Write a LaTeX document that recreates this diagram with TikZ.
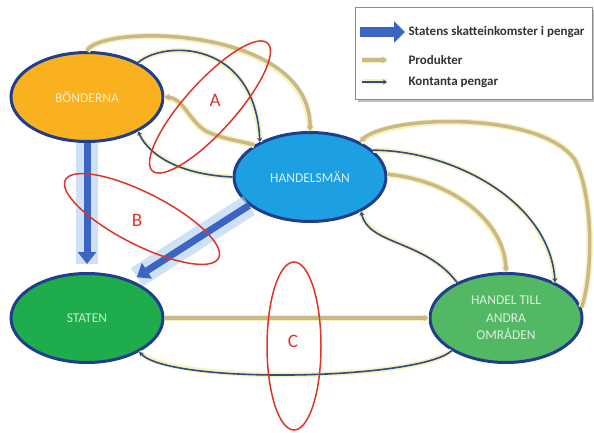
\documentclass[tikz,border=0pt]{standalone}
\usepackage{fontspec}
\setmainfont{Carlito}
\usetikzlibrary{shapes.geometric,arrows.meta,positioning}

\definecolor{rimblue}{RGB}{32,62,140}
\definecolor{farmorange}{RGB}{249,177,32}
\definecolor{tradeblue}{RGB}{28,160,225}
\definecolor{stategreen}{RGB}{30,172,76}
\definecolor{fargreen}{RGB}{82,184,100}
\definecolor{goods}{RGB}{203,184,135}
\definecolor{cash}{RGB}{45,75,135}
\definecolor{halo}{RGB}{246,242,190}
\definecolor{taxblue}{RGB}{60,100,195}
\definecolor{taxhalo}{RGB}{175,205,240}
\definecolor{ringred}{RGB}{222,52,42}

\tikzset{
  actor/.style={ellipse, draw=rimblue, line width=3pt, minimum width=152pt,
    minimum height=89pt, inner sep=0pt, align=center,
    font=\fontsize{13.5}{17.5}\selectfont},
  goodsflow/.style={draw=goods, line width=3.5pt,
    preaction={draw=halo, line width=6.5pt, -},
    -{Stealth[length=5pt,width=7pt]}},
  cashflow/.style={draw=cash, line width=1.6pt,
    preaction={draw=halo, line width=5pt, -},
    -{Stealth[length=4pt,width=5pt]}},
  taxflow/.style={draw=taxblue, line width=7pt,
    preaction={draw=taxhalo, line width=22pt, opacity=.6, -},
    -{Triangle[length=12pt,width=18pt]}},
  zone/.style={ellipse, draw=ringred, line width=1.5pt, inner sep=0pt},
  zonelabel/.style={text=ringred, font=\fontsize{19}{21}\selectfont},
  keytext/.style={anchor=west, text=black!80, font=\fontsize{13}{15}\bfseries},
}

\begin{document}
\begin{tikzpicture}[x=1pt,y=-1pt]
  \useasboundingbox (0,0) rectangle (594,433);

  % actors
  \node [actor, fill=farmorange, text=white!75!farmorange] (bonder) at (87,97) {BÖNDERNA};
  \node [actor, fill=tradeblue, text=white!85!tradeblue] (handelsman) at (310,177) {HANDELSMÄN};
  \node [actor, fill=stategreen, text=white!75!stategreen] (staten) at (87,318) {STATEN};
  \node [actor, fill=fargreen, text=white!80!fargreen] (far) at (506,318) {HANDEL TILL\\ANDRA\\OMRÅDEN};

  % goods and cash between farmers and merchants
  \draw [goodsflow] (bonder.north) .. controls (98,24) and (312,24) .. (handelsman.north);
  \draw [cashflow] (bonder.34) .. controls (165,40) and (255,40) .. (handelsman.145);
  \draw [goodsflow] (handelsman.150) .. controls (235,140) and (225,139) .. (210,133)
    .. controls (190,125) and (185,98) .. (bonder.east);
  \draw [cashflow] (handelsman.west) .. controls (185,175) and (150,158) .. (bonder.-34);

  % merchants and far trade
  \draw [goodsflow] (far.8) .. controls (592,280) and (595,200) .. (575,160)
    .. controls (540,110) and (385,115) .. (handelsman.35);
  \draw [cashflow] (handelsman.23) .. controls (450,150) and (550,200) .. (far.36);
  \draw [goodsflow] (handelsman.2) .. controls (450,180) and (505,220) .. (far.north);
  \draw [cashflow] (far.144) .. controls (425,240) and (368,245) .. (handelsman.-34);

  % state and far trade
  \draw [goodsflow] (staten.east) -- (far.west);
  \draw [cashflow] (far.211) .. controls (420,380) and (170,385) .. (staten.-33);

  % taxes
  \draw [taxflow, shorten >=8pt] (bonder.south) -- (staten.north);
  \draw [taxflow, shorten >=6pt] (handelsman.205) -- (staten.40);

  % zones
  \node [zone, minimum width=172pt, minimum height=50pt, rotate=48] (ringA) at (210,107) {};
  \node [zonelabel] (labelA) at (215,100) {A};
  \node [zone, minimum width=172pt, minimum height=52pt, rotate=-27] (ringB) at (142,219) {};
  \node [zonelabel] (labelB) at (137,220) {B};
  \node [zone, minimum width=54pt, minimum height=168pt] (ringC) at (294,346) {};
  \node [zonelabel] (labelC) at (293,341) {C};

  % legend
  \fill [black!25] (358,10) rectangle (594,102);
  \node [draw=black!45, line width=.8pt, fill=white, anchor=north west,
    minimum width=237pt, minimum height=92pt] (legend) at (355,7) {};
  \node [keytext] (keytax) at (405,32) {Statens skatteinkomster i pengar};
  \node [keytext] (keygoods) at (405,60) {Produkter};
  \node [keytext] (keycash) at (405,82) {Kontanta pengar};
  \coordinate (taxfrom) at (360,32);
  \coordinate (goodsfrom) at (362,60);
  \coordinate (cashfrom) at (362,82);
  \draw [draw=taxblue, line width=10pt, -{Triangle[length=11pt,width=21pt]}] (taxfrom) -- (keytax.west);
  \draw [goodsflow, shorten >=18pt] (goodsfrom) -- (keygoods.west);
  \draw [cashflow, shorten >=18pt] (cashfrom) -- (keycash.west);
\end{tikzpicture}
\end{document}
